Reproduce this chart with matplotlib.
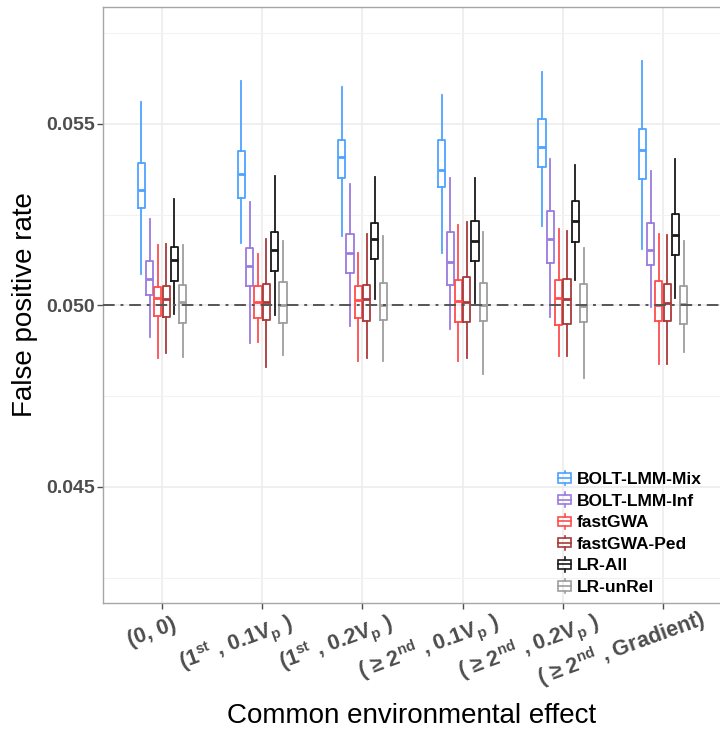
import numpy as np
import matplotlib.pyplot as plt
from matplotlib.legend_handler import HandlerBase
from matplotlib.patches import Rectangle
from matplotlib.lines import Line2D
from matplotlib.transforms import ScaledTranslation

plt.rcParams['font.family'] = ['Liberation Sans', 'DejaVu Sans']
plt.rcParams['mathtext.default'] = 'regular'

scenarios = ['(0, 0)',
             '(1$^{st}$ , 0.1V$_{p}$ )',
             '(1$^{st}$ , 0.2V$_{p}$ )',
             '( ≥ 2$^{nd}$ , 0.1V$_{p}$ )',
             '( ≥ 2$^{nd}$ , 0.2V$_{p}$ )',
             '( ≥ 2$^{nd}$ , Gradient)']
methods = ['BOLT-LMM-Mix', 'BOLT-LMM-Inf', 'fastGWA', 'fastGWA-Ped', 'LR-All', 'LR-unRel']
colors = ['#4da3ff', '#9a7be0', '#ff4d4d', '#a83a3a', '#1a1a1a', '#9e9e9e']

# box stats per method, one value per scenario
bolt_mix_lo  = [0.05086, 0.05173, 0.05190, 0.05145, 0.05220, 0.05155]
bolt_mix_q1  = [0.05269, 0.05295, 0.05350, 0.05326, 0.05382, 0.05349]
bolt_mix_med = [0.05318, 0.05362, 0.05410, 0.05373, 0.05436, 0.05429]
bolt_mix_q3  = [0.05393, 0.05426, 0.05456, 0.05456, 0.05514, 0.05487]
bolt_mix_hi  = [0.05560, 0.05619, 0.05603, 0.05580, 0.05644, 0.05674]

bolt_inf_lo  = [0.04914, 0.04896, 0.04942, 0.04936, 0.04969, 0.04995]
bolt_inf_q1  = [0.05028, 0.05052, 0.05090, 0.05056, 0.05116, 0.05110]
bolt_inf_med = [0.05073, 0.05109, 0.05144, 0.05119, 0.05183, 0.05153]
bolt_inf_q3  = [0.05123, 0.05158, 0.05197, 0.05201, 0.05261, 0.05226]
bolt_inf_hi  = [0.05238, 0.05284, 0.05334, 0.05350, 0.05404, 0.05369]

fastgwa_lo  = [0.04856, 0.04898, 0.04848, 0.04847, 0.04861, 0.04838]
fastgwa_q1  = [0.04971, 0.04965, 0.04964, 0.04953, 0.04946, 0.04957]
fastgwa_med = [0.05020, 0.05010, 0.05015, 0.05012, 0.05021, 0.05001]
fastgwa_q3  = [0.05050, 0.05054, 0.05052, 0.05070, 0.05070, 0.05068]
fastgwa_hi  = [0.05165, 0.05142, 0.05145, 0.05221, 0.05210, 0.05196]

fastgwa_ped_lo  = [0.04868, 0.04831, 0.04856, 0.04856, 0.04861, 0.04838]
fastgwa_ped_q1  = [0.04967, 0.04960, 0.04958, 0.04953, 0.04949, 0.04957]
fastgwa_ped_med = [0.05018, 0.05009, 0.05017, 0.05009, 0.05018, 0.05006]
fastgwa_ped_q3  = [0.05053, 0.05060, 0.05056, 0.05077, 0.05074, 0.05060]
fastgwa_ped_hi  = [0.05169, 0.05182, 0.05197, 0.05231, 0.05205, 0.05194]

lr_all_lo  = [0.04977, 0.04973, 0.05017, 0.05006, 0.05070, 0.05020]
lr_all_q1  = [0.05068, 0.05096, 0.05127, 0.05123, 0.05174, 0.05139]
lr_all_med = [0.05125, 0.05153, 0.05183, 0.05176, 0.05233, 0.05194]
lr_all_q3  = [0.05162, 0.05203, 0.05226, 0.05232, 0.05288, 0.05251]
lr_all_hi  = [0.05293, 0.05357, 0.05355, 0.05350, 0.05387, 0.05404]

lr_unrel_lo  = [0.04859, 0.04863, 0.04847, 0.04810, 0.04799, 0.04871]
lr_unrel_q1  = [0.04951, 0.04951, 0.04960, 0.04957, 0.04953, 0.04949]
lr_unrel_med = [0.05009, 0.05001, 0.05001, 0.05001, 0.04999, 0.05003]
lr_unrel_q3  = [0.05055, 0.05065, 0.05063, 0.05063, 0.05060, 0.05052]
lr_unrel_hi  = [0.05165, 0.05176, 0.05192, 0.05202, 0.05158, 0.05176]

stats_by_method = [
    (bolt_mix_lo, bolt_mix_q1, bolt_mix_med, bolt_mix_q3, bolt_mix_hi),
    (bolt_inf_lo, bolt_inf_q1, bolt_inf_med, bolt_inf_q3, bolt_inf_hi),
    (fastgwa_lo, fastgwa_q1, fastgwa_med, fastgwa_q3, fastgwa_hi),
    (fastgwa_ped_lo, fastgwa_ped_q1, fastgwa_ped_med, fastgwa_ped_q3, fastgwa_ped_hi),
    (lr_all_lo, lr_all_q1, lr_all_med, lr_all_q3, lr_all_hi),
    (lr_unrel_lo, lr_unrel_q1, lr_unrel_med, lr_unrel_q3, lr_unrel_hi),
]

fig = plt.figure(figsize=(7.2, 7.31), dpi=100)
ax = fig.add_axes([0.1431, 0.1751, 0.8569, 0.8153])

x = np.arange(1, len(scenarios) + 1)
dodge = 0.083
for i, (col, st) in enumerate(zip(colors, stats_by_method)):
    lo, q1, med, q3, hi = st
    bstats = [dict(whislo=lo[k], q1=q1[k], med=med[k], q3=q3[k], whishi=hi[k], fliers=[])
              for k in range(len(x))]
    pos = x + (i - 2.5) * dodge
    ax.bxp(bstats, positions=pos, widths=0.072, showfliers=False, showcaps=False,
           manage_ticks=False,
           boxprops=dict(color=col, lw=1.3),
           whiskerprops=dict(color=col, lw=1.3),
           medianprops=dict(color=col, lw=2.0, solid_capstyle='butt'))

ax.axhline(0.05, color='#555555', lw=1.4, ls=(0, (6, 3, 1.5, 3)), zorder=3)

ax.set_xlim(0.4112, 6.569)
ax.set_ylim(0.04180, 0.05822)
ax.set_xticks(x)
ax.set_xticklabels(scenarios)
ax.set_yticks([0.045, 0.050, 0.055])
ax.set_yticklabels(['0.045', '0.050', '0.055'])
ax.set_yticks([0.0425, 0.0475, 0.0525, 0.0575], minor=True)

ax.grid(True, which='major', color='#ebebeb', lw=1.1, zorder=0)
ax.grid(True, which='minor', axis='y', color='#f2f2f2', lw=0.8, zorder=0)
ax.set_axisbelow(True)
for side in ['left', 'top', 'bottom']:
    ax.spines[side].set_color('#a6a6a6')
    ax.spines[side].set_linewidth(1.0)
ax.spines['right'].set_visible(False)
ax.tick_params(axis='both', which='major', length=4, width=1, color='#4d4d4d')
ax.tick_params(axis='y', which='minor', length=0)
ax.tick_params(axis='y', labelsize=14, labelcolor='#4d4d4d', pad=2)
ax.tick_params(axis='x', labelsize=15.5, labelcolor='#4d4d4d', pad=7)
for lbl in ax.get_yticklabels():
    lbl.set_fontweight('bold')
for lbl in ax.get_xticklabels():
    lbl.set_fontweight('bold')
    lbl.set_rotation(20)
    lbl.set_rotation_mode('anchor')
    lbl.set_ha('right')
    lbl.set_va('top')

ax.set_ylabel('False positive rate', fontsize=20, labelpad=6)
ax.set_xlabel('Common environmental effect', fontsize=20)
ax.xaxis.set_label_coords(0.5, -0.168)

# shift rotated labels so the tick sits about three quarters along each label
fig.canvas.draw()
renderer = fig.canvas.get_renderer()
ang = np.deg2rad(20)
for lbl in ax.get_xticklabels():
    lbl.set_rotation(0)
    w = lbl.get_window_extent(renderer).width
    lbl.set_rotation(20)
    dx = 0.22 * w * np.cos(ang) / fig.dpi
    dy = 0.22 * w * np.sin(ang) / fig.dpi
    lbl.set_transform(lbl.get_transform() + ScaledTranslation(dx, dy, fig.dpi_scale_trans))


class BoxGlyph(HandlerBase):
    def create_artists(self, legend, orig_handle, xdescent, ydescent,
                       width, height, fontsize, trans):
        c = orig_handle.get_color()
        x0, y0 = -xdescent, -ydescent
        cx = x0 + width / 2
        rect = Rectangle((x0, y0 + 0.15 * height), width, 0.7 * height,
                         fill=False, ec=c, lw=1.2, transform=trans)
        med = Line2D([x0, x0 + width], [y0 + 0.5 * height] * 2, color=c, lw=1.2, transform=trans)
        wt = Line2D([cx, cx], [y0 + 0.85 * height, y0 + 1.05 * height], color=c, lw=1.2, transform=trans)
        wb = Line2D([cx, cx], [y0 - 0.05 * height, y0 + 0.15 * height], color=c, lw=1.2, transform=trans)
        return [rect, med, wt, wb]


handles = [Line2D([], [], color=c) for c in colors]
leg = ax.legend(handles, methods, handler_map={Line2D: BoxGlyph()},
                loc='lower left', bbox_to_anchor=(558 / 720, 0.186),
                bbox_transform=fig.transFigure, frameon=False,
                borderpad=0, borderaxespad=0, handlelength=0.75, handleheight=0.8,
                handletextpad=0.35, labelspacing=0.34,
                prop=dict(size=12.5, weight='bold'))

fig.savefig('out.png', dpi=100)
